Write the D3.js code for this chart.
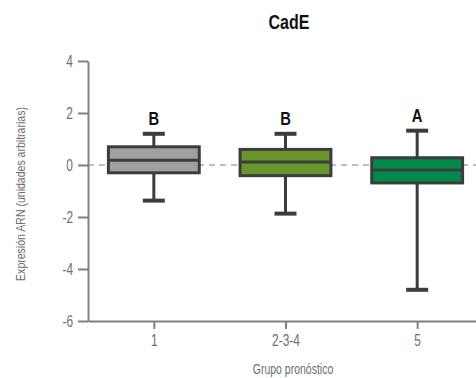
<!DOCTYPE html>
<html><head><meta charset="utf-8">
<script src="https://cdn.jsdelivr.net/npm/d3@7"></script>
<style>body{margin:0;background:#fff}</style>
</head><body>
<svg id="c" width="476" height="378"></svg>
<script>
const categories = ["1", "2-3-4", "5"];
const whiskerLow = [-1.37, -1.87, -4.8];
const q1 = [-0.30, -0.41, -0.69];
const median = [0.18, 0.115, -0.19];
const q3 = [0.70, 0.60, 0.28];
const whiskerHigh = [1.2, 1.2, 1.32];
const letters = ["B", "B", "A"];
const fills = ["#a0a0a0", "#69952d", "#008a4a"];
const yTicks = [-6, -4, -2, 0, 2, 4];

const svg = d3.select("#c");
const font = "'Liberation Sans', Arial, sans-serif";
function condense(sel, f) {
  sel.each(function () {
    const w = this.getComputedTextLength();
    d3.select(this).attr("textLength", w * f).attr("lengthAdjust", "spacingAndGlyphs");
  });
}
const x = d3.scalePoint().domain(categories).range([88, 483]).padding(0.5);
const y = d3.scaleLinear().domain([-6, 4]).range([321, 61]);
const bw = x.step() * 0.69;
const cap = 22;

svg.append("line").attr("x1", 88).attr("x2", 476).attr("y1", y(0)).attr("y2", y(0))
  .attr("stroke", "#aaa").attr("stroke-width", 1.5).attr("stroke-dasharray", "6,5");

const ya = svg.append("g").attr("transform", "translate(88,0)")
  .call(d3.axisLeft(y).tickValues(yTicks).tickFormat(d => String(d)).tickSize(10).tickSizeOuter(0).tickPadding(5));
const xa = svg.append("g").attr("transform", `translate(0,${y(-6)})`)
  .call(d3.axisBottom(x).tickSize(8).tickSizeOuter(0).tickPadding(5));
[ya, xa].forEach(a => {
  a.select(".domain").attr("stroke", "#808080").attr("stroke-width", 2);
  a.selectAll(".tick line").attr("stroke", "#808080").attr("stroke-width", 2);
  a.selectAll(".tick text").attr("fill", "#6e6e6e").style("font-family", font).style("font-size", "17px");
  condense(a.selectAll(".tick text"), 0.7);
});

const g = svg.append("g");
categories.forEach((c, i) => {
  const cx = x(c);
  const st = "#3c3c3c";
  g.append("line").attr("x1", cx).attr("x2", cx).attr("y1", y(whiskerHigh[i])).attr("y2", y(q3[i]))
    .attr("stroke", st).attr("stroke-width", 3);
  g.append("line").attr("x1", cx).attr("x2", cx).attr("y1", y(q1[i])).attr("y2", y(whiskerLow[i]))
    .attr("stroke", st).attr("stroke-width", 3);
  [whiskerHigh[i], whiskerLow[i]].forEach(v => {
    g.append("line").attr("x1", cx - cap / 2).attr("x2", cx + cap / 2).attr("y1", y(v)).attr("y2", y(v))
      .attr("stroke", st).attr("stroke-width", 4);
  });
  g.append("rect").attr("x", cx - bw / 2).attr("width", bw)
    .attr("y", y(q3[i])).attr("height", y(q1[i]) - y(q3[i]))
    .attr("fill", fills[i]).attr("stroke", st).attr("stroke-width", 3);
  g.append("line").attr("x1", cx - bw / 2).attr("x2", cx + bw / 2).attr("y1", y(median[i])).attr("y2", y(median[i]))
    .attr("stroke", st).attr("stroke-width", 3);
  const t = g.append("text").attr("x", cx).attr("y", y(whiskerHigh[i]) - 9).attr("text-anchor", "middle")
    .style("font-family", font).style("font-weight", "bold").style("font-size", "18px").attr("fill", "#111")
    .text(letters[i]);
  condense(t, 0.82);
});

const title = svg.append("text").attr("x", 289).attr("y", 29).attr("text-anchor", "middle")
  .style("font-family", font).style("font-weight", "bold").style("font-size", "20px").attr("fill", "#111")
  .text("CadE");
condense(title, 0.8);
const xl = svg.append("text").attr("x", 293).attr("y", 374).attr("text-anchor", "middle")
  .style("font-family", font).style("font-size", "14px").attr("fill", "#6e6e6e")
  .text("Grupo pronóstico");
condense(xl, 0.75);
const yl = svg.append("text").attr("transform", "translate(25,194) rotate(-90)").attr("text-anchor", "middle")
  .style("font-family", font).style("font-size", "13.5px").attr("fill", "#6e6e6e")
  .text("Expresión ARN (unidades arbitrarias)");
condense(yl, 0.78);
</script>
</body></html>
